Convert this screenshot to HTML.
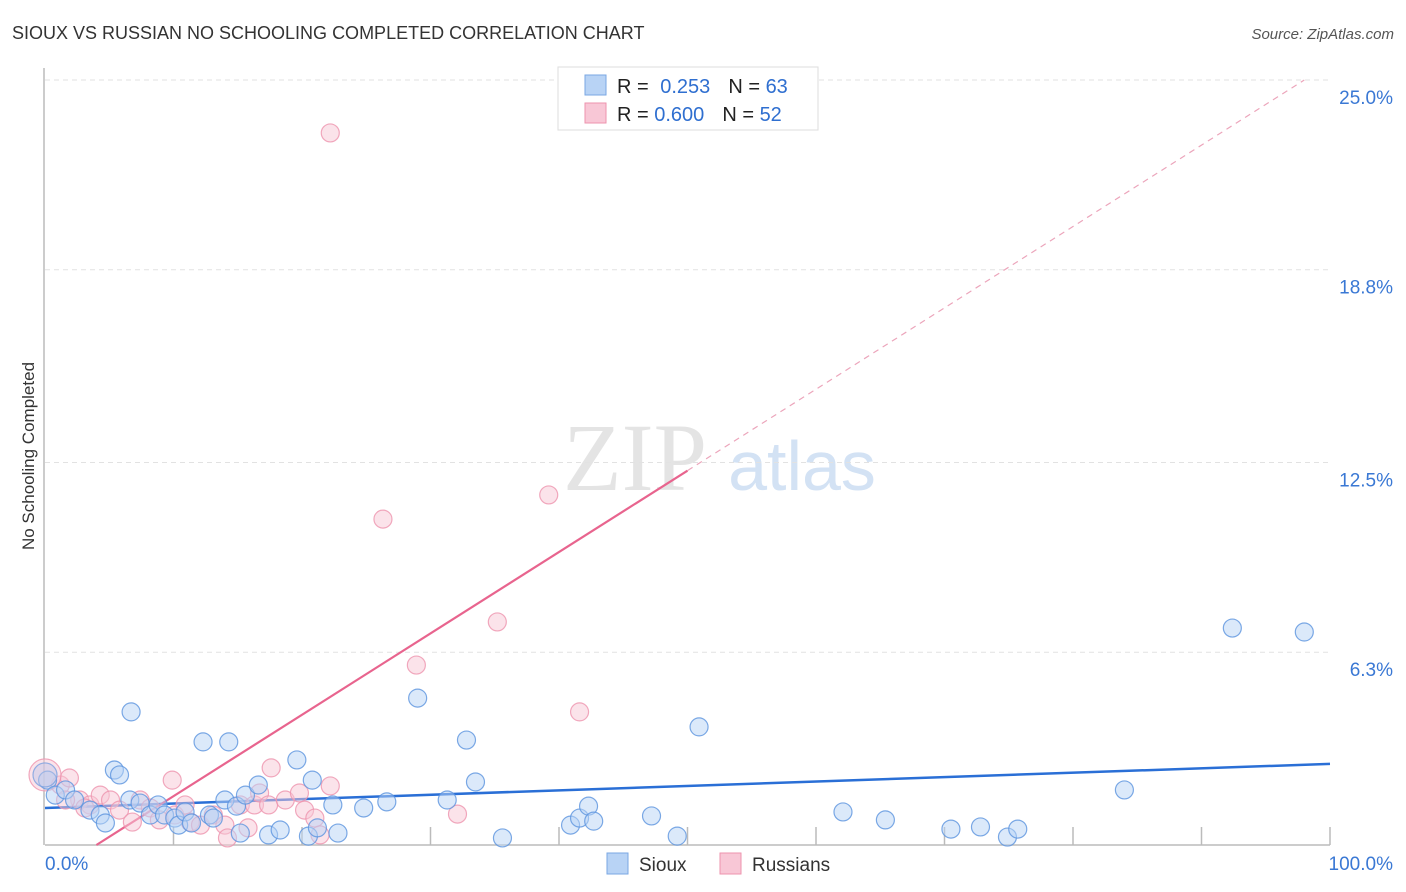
<!DOCTYPE html>
<html><head><meta charset="utf-8"><style>
body{margin:0;background:#fff;font-family:"Liberation Sans",sans-serif;}
svg{display:block}
</style></head><body>
<svg id="chart" width="1406" height="892">
<text x="12" y="39" font-size="18" fill="#333">SIOUX VS RUSSIAN NO SCHOOLING COMPLETED CORRELATION CHART</text>
<text x="1394" y="39" font-size="15" fill="#555" font-style="italic" text-anchor="end">Source: ZipAtlas.com</text>
<text transform="translate(34,456) rotate(-90)" font-size="17" fill="#333" text-anchor="middle">No Schooling Completed</text>
<g><text x="635" y="490" font-size="96" font-family="Liberation Serif,serif" fill="#e4e4e4" text-anchor="middle">ZIP</text><text x="802" y="490" font-size="70" fill="#d3e2f4" text-anchor="middle">atlas</text></g>
<g id="grid"></g><g id="axes"></g><g id="trend"></g><g id="pts"></g>
<g>
<rect x="558" y="67" width="260" height="63" fill="#fff" stroke="#ddd"/>
<rect x="585" y="75" width="21" height="20" fill="#b8d3f5" stroke="#7aa7e3"/>
<rect x="585" y="103" width="21" height="20" fill="#f8c7d6" stroke="#ee93ae"/>
<text x="617" y="93" font-size="20" fill="#222">R = <tspan fill="#2f6fd0" dx="6">0.253</tspan><tspan fill="#222" dx="18">N = </tspan><tspan fill="#2f6fd0">63</tspan></text>
<text x="617" y="121" font-size="20" fill="#222">R = <tspan fill="#2f6fd0">0.600</tspan><tspan fill="#222" dx="18">N = </tspan><tspan fill="#2f6fd0">52</tspan></text>
</g>
<g>
<rect x="607" y="853" width="21" height="21" fill="#b8d3f5" stroke="#7aa7e3"/>
<text x="639" y="871" font-size="19" fill="#333">Sioux</text>
<rect x="720" y="853" width="21" height="21" fill="#f8c7d6" stroke="#ee93ae"/>
<text x="752" y="871" font-size="19" fill="#333">Russians</text>
</g>
</svg>
<script>
const yTicks=[6.3,12.5,18.8,25.0];
const yTickLabels=["6.3%","12.5%","18.8%","25.0%"];
const xEndLabels=["0.0%","100.0%"];
const siouxX=[0.2,0.8,1.6,2.3,3.5,4.3,4.7,5.4,5.8,6.7,6.6,7.4,8.2,8.8,9.3,10.1,10.4,10.9,11.4,12.3,12.8,13.1,14.0,14.3,14.9,15.2,15.6,16.6,17.4,18.3,19.6,20.5,20.8,21.2,22.4,22.8,24.8,26.6,29.0,31.3,32.8,33.5,35.6,40.9,41.6,42.3,42.7,47.2,49.2,50.9,62.1,65.4,70.5,72.8,74.9,75.7,84.0,92.4,98.0];
const siouxY=[2.12,1.63,1.80,1.47,1.14,0.98,0.72,2.45,2.29,4.35,1.47,1.37,0.98,1.31,0.98,0.88,0.65,1.08,0.72,3.37,0.98,0.88,1.47,3.37,1.27,0.39,1.63,1.96,0.33,0.49,2.78,0.29,2.12,0.56,1.31,0.39,1.21,1.41,4.80,1.47,3.43,2.06,0.23,0.65,0.88,1.27,0.78,0.95,0.29,3.86,1.08,0.82,0.52,0.59,0.26,0.52,1.80,7.09,6.96];
const russX=[22.2,39.2,26.3,35.2,28.9,41.6,1.2,1.9,2.7,3.5,4.3,5.1,5.8,6.8,7.4,8.2,8.9,9.9,10.1,10.9,11.3,12.1,13.1,14.0,14.2,15.2,15.8,16.3,16.7,17.4,17.6,18.7,19.8,20.2,21.0,21.4,22.2,32.1,1.6,3.1];
const russY=[23.27,11.44,10.65,7.29,5.88,4.35,1.96,2.19,1.47,1.31,1.63,1.47,1.14,0.75,1.47,1.21,0.82,2.12,0.98,1.31,0.75,0.65,0.98,0.65,0.23,1.31,0.56,1.31,1.70,1.31,2.52,1.47,1.70,1.14,0.88,0.33,1.93,1.01,1.47,1.21];
const siouxTrend=[1.21,2.65];
const russTrend=[4.0,25.0];
const NS="http://www.w3.org/2000/svg";
const X0=45,X1=1330,Y0=845,Y25=80;
const sx=v=>X0+(X1-X0)*v/100;
const sy=v=>Y0-(Y0-Y25)*v/25;
function mk(tag,attrs,parent){const e=document.createElementNS(NS,tag);for(const k in attrs)e.setAttribute(k,attrs[k]);document.getElementById(parent).appendChild(e);return e;}
yTicks.forEach((t,i)=>{
 const l=mk('line',{x1:X0,x2:1330,y1:sy(t),y2:sy(t),stroke:'#e2e2e2','stroke-dasharray':'5,4'},'grid');
 
 
 const tx=mk('text',{x:1393,y:sy(t)+24,'font-size':19,fill:'#3a78d4','text-anchor':'end'},'grid');
 tx.textContent=yTickLabels[i];
 
 
});
const ax=mk('line',{x1:X0,x2:X1,y1:Y0,y2:Y0,stroke:'#bbb','stroke-width':1.5},'axes');


const ay=mk('line',{x1:X0-1,x2:X0-1,y1:68,y2:Y0,stroke:'#bbb','stroke-width':1.5},'axes');


for(let i=1;i<=10;i++){const tk=mk('line',{x1:sx(i*10),x2:sx(i*10),y1:Y0-18,y2:Y0,stroke:'#bbb','stroke-width':1.5},'axes');
 
 }
xEndLabels.forEach((s,i)=>{const t=mk('text',{x:i?1393:45,y:870,'font-size':19,fill:'#3a78d4','text-anchor':i?'end':'start'},'axes');t.textContent=s;
 
 });
function dot(x,y,r,f,s,name){const c=mk('circle',{cx:sx(x),cy:sy(y),r:r,fill:f,'fill-opacity':0.5,stroke:s,'stroke-opacity':0.8,'stroke-width':1.2},'pts');
 
 }
russX.forEach((x,i)=>dot(x,russY[i],9,'#f8c7d6','#ee93ae','russian-point'));
dot(0,2.29,16,'#f8c7d6','#ee93ae','russian-point-large');
siouxX.forEach((x,i)=>dot(x,siouxY[i],9,'#b8d3f5','#5b93de','sioux-point'));
dot(0,2.29,12,'#c4c7e8','#7aa0e0','sioux-point-large');
const bt=mk('line',{x1:sx(0),x2:sx(100),y1:sy(siouxTrend[0]),y2:sy(siouxTrend[1]),stroke:'#2a6fd6','stroke-width':2.5},'trend');


const slope=russTrend[1]/(98-russTrend[0]);
const rt=mk('line',{x1:sx(russTrend[0]),x2:sx(50),y1:sy(0),y2:sy((50-russTrend[0])*slope),stroke:'#e8648e','stroke-width':2.2},'trend');


const rd=mk('line',{x1:sx(50),x2:sx(98),y1:sy((50-russTrend[0])*slope),y2:sy(russTrend[1]),stroke:'#eca5bb','stroke-width':1.2,'stroke-dasharray':'6,5'},'trend');


</script>
</body></html>
